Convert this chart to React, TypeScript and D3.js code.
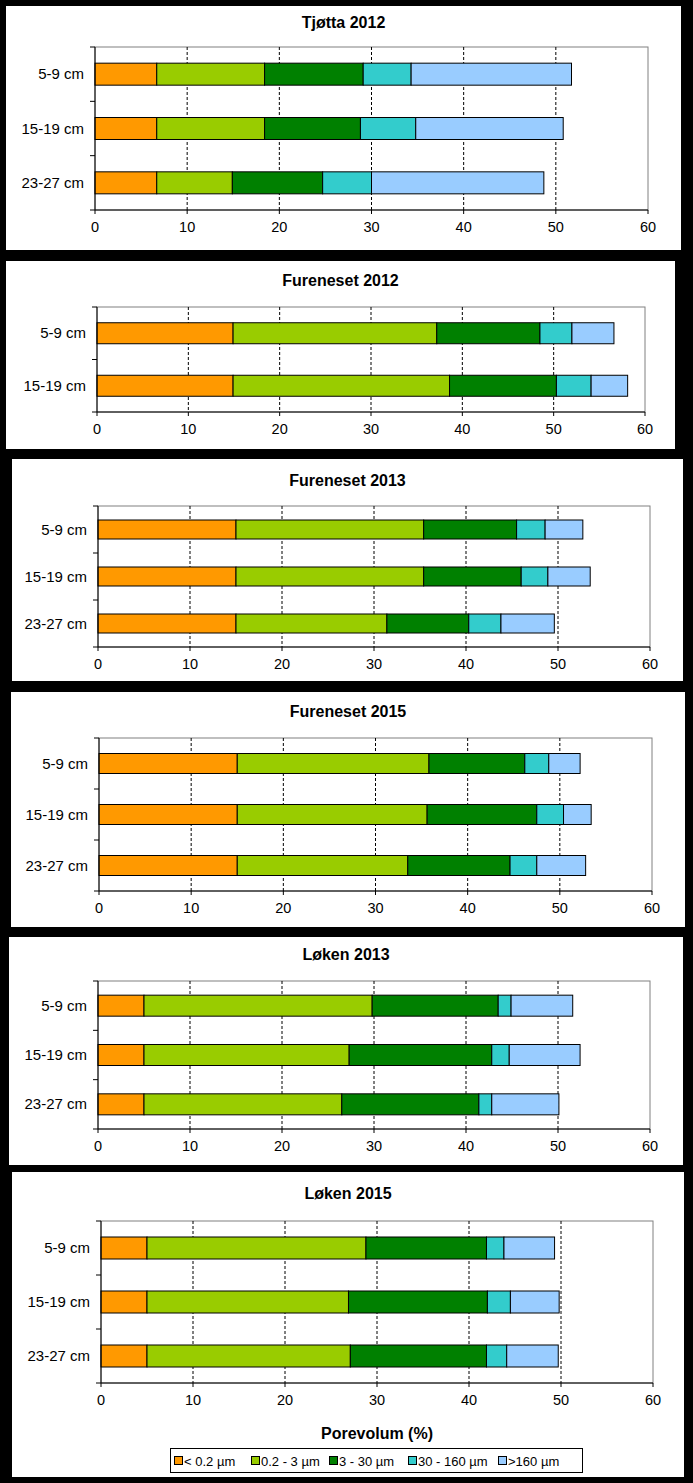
import * as d3 from "d3";

// categories / series
const depths3 = ["5-9 cm", "15-19 cm", "23-27 cm"];
const depths2 = ["5-9 cm", "15-19 cm"];
const seriesNames = ["< 0.2 µm", "0.2 - 3 µm", "3 - 30 µm", "30 - 160 µm", ">160 µm"];
const colors = ["#FF9900", "#99CC00", "#008000", "#33CCCC", "#99CCFF"];
const xTicks = [0, 10, 20, 30, 40, 50, 60];

// pore volume (%) per depth, one value per pore size class
const tjotta2012 = [
  [6.7, 11.7, 10.7, 5.2, 17.4],
  [6.7, 11.7, 10.4, 6.0, 16.0],
  [6.7, 8.2, 9.8, 5.3, 18.7],
];
const fureneset2012 = [
  [14.9, 22.3, 11.3, 3.5, 4.6],
  [14.9, 23.7, 11.7, 3.8, 4.0],
];
const fureneset2013 = [
  [15.0, 20.4, 10.1, 3.1, 4.1],
  [15.0, 20.4, 10.6, 2.9, 4.6],
  [15.0, 16.4, 8.9, 3.5, 5.8],
];
const fureneset2015 = [
  [15.0, 20.8, 10.4, 2.6, 3.4],
  [15.0, 20.6, 11.9, 2.9, 3.0],
  [15.0, 18.5, 11.1, 2.9, 5.3],
];
const loken2013 = [
  [5.0, 24.8, 13.7, 1.4, 6.7],
  [5.0, 22.3, 15.5, 1.9, 7.7],
  [5.0, 21.5, 14.9, 1.4, 7.3],
];
const loken2015 = [
  [5.0, 23.8, 13.1, 1.9, 5.5],
  [5.0, 21.9, 15.1, 2.5, 5.3],
  [5.0, 22.1, 14.8, 2.2, 5.6],
];

const panels = [
  { title: "Tjøtta 2012", depths: depths3, values: tjotta2012 },
  { title: "Fureneset 2012", depths: depths2, values: fureneset2012 },
  { title: "Fureneset 2013", depths: depths3, values: fureneset2013 },
  { title: "Fureneset 2015", depths: depths3, values: fureneset2015 },
  { title: "Løken 2013", depths: depths3, values: loken2013 },
  { title: "Løken 2015", depths: depths3, values: loken2015 },
];

// layout: panel box, plot area, bar thickness
const layout = [
  { bx0: 6, bx1: 681, by0: 6, by1: 250, ty: 22, px0: 95, px1: 648, py0: 47, py1: 210, bar: 22 },
  { bx0: 6, bx1: 675, by0: 261, by1: 449, ty: 280, px0: 97, px1: 645, py0: 307, py1: 412, bar: 21 },
  { bx0: 12, bx1: 683, by0: 459, by1: 681, ty: 480, px0: 98, px1: 650, py0: 506, py1: 647, bar: 19 },
  { bx0: 11, bx1: 685, by0: 692, by1: 927, ty: 711, px0: 99, px1: 652, py0: 738, py1: 891, bar: 20 },
  { bx0: 9, bx1: 683, by0: 937, by1: 1165, ty: 954, px0: 98, px1: 650, py0: 981, py1: 1129, bar: 21 },
  { bx0: 12, bx1: 684, by0: 1172, by1: 1477, ty: 1193, px0: 101, px1: 653, py0: 1221, py1: 1383, bar: 22 },
];

const legendX = [174, 251, 329, 408, 498];
const FONT = "'Liberation Sans', Arial, sans-serif";

function Panel({ p, l }) {
  const x = d3.scaleLinear().domain([0, 60]).range([l.px0, l.px1]);
  const y = d3.scaleBand().domain(p.depths).range([l.py0, l.py1]).padding(0);
  const rows = p.values.map((v, i) => {
    const o = { depth: p.depths[i] };
    seriesNames.forEach((s, j) => (o[s] = v[j]));
    return o;
  });
  const stack = d3.stack().keys(seriesNames)(rows);
  const bounds = [...p.depths.map((d) => y(d)), l.py1];

  return (
    <g>
      <rect x={l.bx0} y={l.by0} width={l.bx1 - l.bx0} height={l.by1 - l.by0} fill="#fff" />
      <text x={(l.bx0 + l.bx1) / 2} y={l.ty + 6} textAnchor="middle" fontWeight="bold" fontSize={16} fontFamily={FONT}>
        {p.title}
      </text>
      <rect x={l.px0} y={l.py0} width={l.px1 - l.px0} height={l.py1 - l.py0} fill="none" stroke="#808080" />
      {xTicks.slice(1, -1).map((t) => (
        <line key={t} x1={x(t)} x2={x(t)} y1={l.py0} y2={l.py1} stroke="#000" strokeDasharray="3,2" />
      ))}
      {stack.map((s, si) =>
        s.map((d, di) => (
          <rect
            key={si + "-" + di}
            x={x(d[0])}
            y={y(d.data.depth) + (y.bandwidth() - l.bar) / 2}
            width={x(d[1]) - x(d[0])}
            height={l.bar}
            fill={colors[si]}
            stroke="#000"
            strokeWidth={1}
          />
        ))
      )}
      <line x1={l.px0} x2={l.px0} y1={l.py0} y2={l.py1} stroke="#000" />
      <line x1={l.px0} x2={l.px1} y1={l.py1} y2={l.py1} stroke="#000" />
      {bounds.map((b, i) => (
        <line key={i} x1={l.px0 - 5} x2={l.px0} y1={b} y2={b} stroke="#000" />
      ))}
      {xTicks.map((t) => (
        <g key={t}>
          <line x1={x(t)} x2={x(t)} y1={l.py1} y2={l.py1 + 4} stroke="#000" />
          <text x={x(t)} y={l.py1 + 22} textAnchor="middle" fontSize={14.5} fontFamily={FONT}>
            {t}
          </text>
        </g>
      ))}
      {p.depths.map((d) => (
        <text key={d} x={l.px0 - 11} y={y(d) + y.bandwidth() / 2 + 5} textAnchor="end" fontSize={15} fontFamily={FONT}>
          {d}
        </text>
      ))}
    </g>
  );
}

export default function App() {
  const last = layout[layout.length - 1];
  return (
    <svg
      width={693}
      height={1483}
      style={{ position: "absolute", left: 0, top: 0, display: "block" }}
    >
      <rect width={693} height={1483} fill="#000" />
      {panels.map((p, i) => (
        <Panel key={p.title} p={p} l={layout[i]} />
      ))}
      <text
        x={(last.px0 + last.px1) / 2}
        y={1439}
        textAnchor="middle"
        fontWeight="bold"
        fontSize={16}
        fontFamily={FONT}
      >
        Porevolum (%)
      </text>
      <rect x={170.5} y={1448.5} width={412} height={24} fill="#fff" stroke="#000" />
      {seriesNames.map((s, i) => (
        <g key={s}>
          <rect x={legendX[i] + 0.5} y={1456.5} width={8} height={8} fill={colors[i]} stroke="#000" />
          <text x={legendX[i] + 10} y={1465.5} fontSize={13} fontFamily={FONT}>
            {s}
          </text>
        </g>
      ))}
    </svg>
  );
}
